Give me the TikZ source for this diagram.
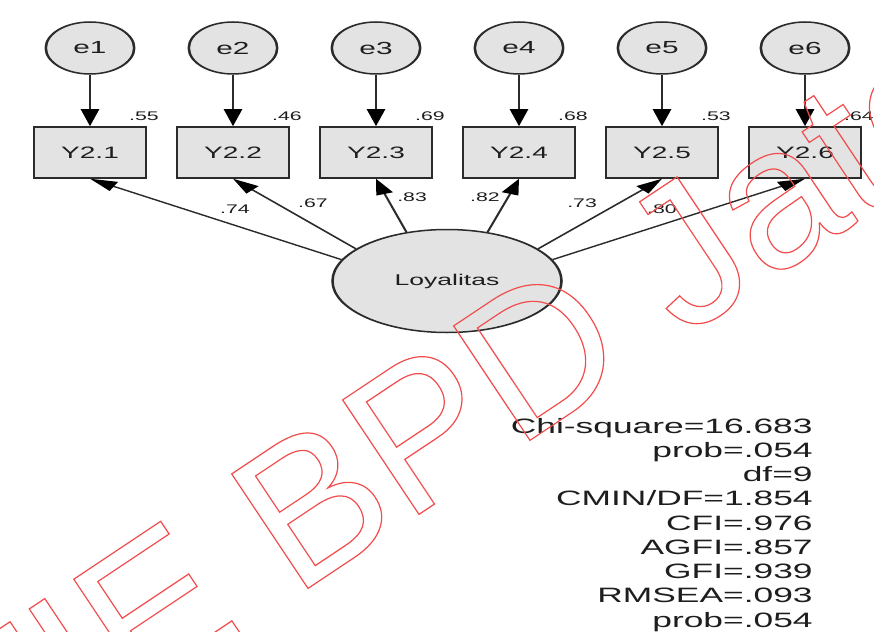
\documentclass[tikz,border=0pt]{standalone}
\usepackage{fontspec}
\setmainfont{Liberation Sans}
\usetikzlibrary{arrows.meta,shapes.geometric}
\definecolor{lineC}{HTML}{2B2B2B}
\definecolor{fillC}{HTML}{E3E3E3}
\definecolor{textC}{HTML}{1E1E1E}
\definecolor{wmC}{rgb}{0.95,0.3,0.3}
\newcommand{\wmon}{\special{pdf:literal direct 1 Tr 1.2 w 0.95 0.3 0.3 RG}}
\begin{document}
\begin{tikzpicture}[x=1pt,y=-1pt,
  errnode/.style={circle,draw=lineC,fill=fillC,line width=1.5pt,minimum size=52pt,inner sep=0pt,text=textC,font=\fontsize{17.5}{18}\selectfont},
  obsbox/.style={rectangle,draw=lineC,fill=fillC,line width=1.5pt,minimum width=66pt,minimum height=51pt,inner sep=0pt,text=textC,font=\fontsize{16.5}{18}\selectfont},
  latnode/.style={ellipse,draw=lineC,fill=fillC,line width=1.5pt,minimum width=134.7pt,minimum height=103pt,inner sep=0pt,text=textC,font=\fontsize{15.6}{18}\selectfont},
  smalllbl/.style={inner sep=0pt,text=textC,font=\fontsize{12.5}{14}\selectfont},
  fitlbl/.style={inner sep=0pt,anchor=base east,text=textC,font=\fontsize{20.8}{24}\selectfont},
  errarrow/.style={draw=lineC,line width=1.6pt,-{Triangle[length=17pt,width=10.5pt,color=black]}},
  loadarrow/.style={draw=lineC,line width=1.3pt,-{Triangle[length=16pt,width=10pt,color=black]}},
  wmark/.style={inner sep=0pt,rotate=33.7,text=wmC,font=\fontsize{200}{200}\selectfont}
]
\useasboundingbox (0,0) rectangle (874,631);
\fill[white] (0,0) rectangle (874,631);
\begin{scope}[transform canvas={xscale=1.7}]
  \foreach \i in {1,...,6} {
    \node[errnode] (e\i) at ({(90+143*(\i-1))/1.7},48) {e\i};
    \node[obsbox] (y\i) at ({(90+143*(\i-1))/1.7},152.5) {Y2.\i};
  }
  \node[latnode] (loy) at (262.94,281) {Loyalitas};
  \foreach \i in {1,...,6} \draw[errarrow] (e\i) -- (y\i);
  \foreach \i/\a in {1/161,2/149,3/116,4/64,5/31,6/19}
    \draw[loadarrow] (loy.\a) -- (y\i.south);
  \foreach \i/\t in {1/.55,2/.46,3/.69,4/.68,5/.53,6/.64}
    \node[smalllbl] (r\i) at ({(144+143*(\i-1))/1.7},116) {\t};
  \node[smalllbl] (l1) at (138.2,209) {.74};
  \node[smalllbl] (l2) at (184.1,203) {.67};
  \node[smalllbl] (l3) at (242.4,197) {.83};
  \node[smalllbl] (l4) at (285.3,197) {.82};
  \node[smalllbl] (l5) at (342.4,203) {.73};
  \node[smalllbl] (l6) at (389.4,209) {.80};
  \foreach \t [count=\k from 0] in {Chi-square=16.683,prob=.054,df=9,CMIN/DF=1.854,CFI=.976,AGFI=.857,GFI=.939,RMSEA=.093,prob=.054}
    \node[fitlbl] (fit\k) at (478.2,{433+24.25*\k}) {\t};
\end{scope}
\begin{scope}
  \clip (0,0) rectangle (874,631);
  \node[wmark,anchor=base west] (wm2) at (294.2,597.6) {\wmon BPD Jateng};
  \node[wmark,anchor=base east] (wm1) at (247.6,628.7) {\wmon STIE};
\end{scope}
\end{tikzpicture}
\end{document}
